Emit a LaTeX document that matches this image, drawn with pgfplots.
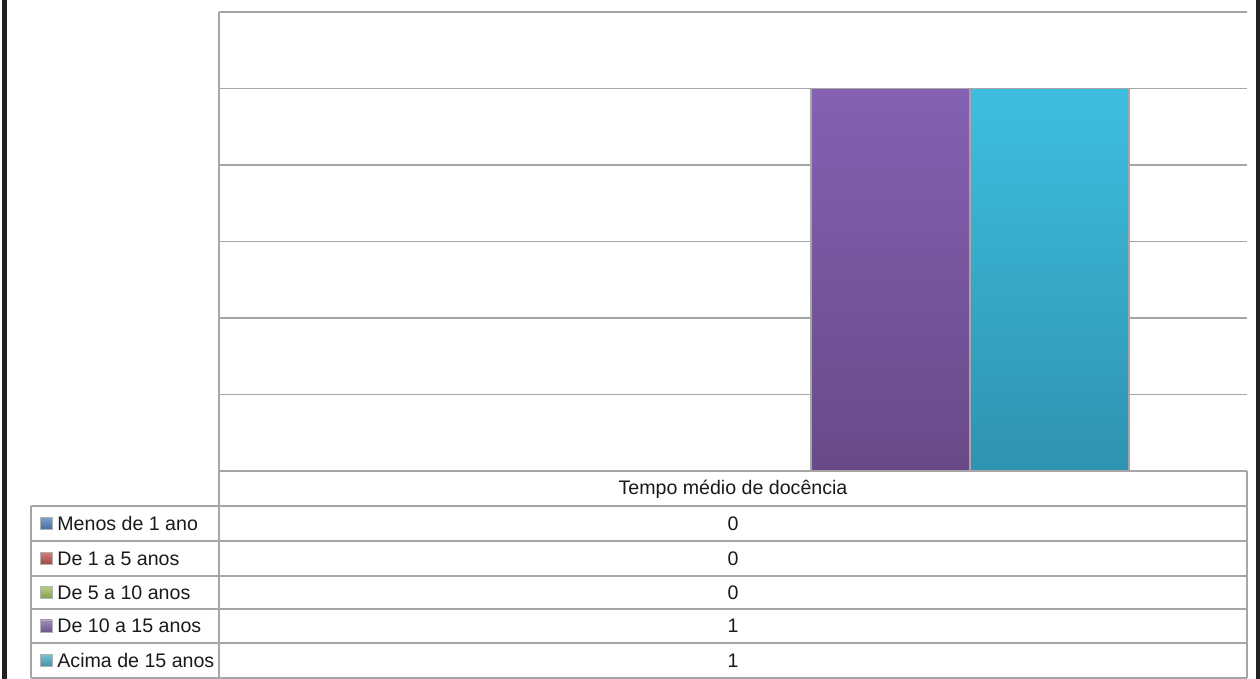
\documentclass[border=0pt]{standalone}
\usepackage{fontspec}
\setmainfont{Liberation Sans}
\usepackage{pgfplots}
\pgfplotsset{compat=1.18}
\definecolor{gridgray}{HTML}{A6A6A6}
\definecolor{txt}{HTML}{1A1A1A}
\definecolor{frame}{HTML}{222222}
\definecolor{purpleTop}{HTML}{8561B2}
\definecolor{purpleBot}{HTML}{684A88}
\definecolor{cyanTop}{HTML}{3EBEE1}
\definecolor{cyanBot}{HTML}{2E93B0}
\definecolor{sBlue}{HTML}{4F81BD}
\definecolor{sRed}{HTML}{C0504D}
\definecolor{sGreen}{HTML}{9BBB59}
\definecolor{sPurple}{HTML}{8064A2}
\definecolor{sCyan}{HTML}{4BACC6}
\begin{document}
\begin{tikzpicture}
\useasboundingbox (0pt,0pt) rectangle (630pt,339.5pt);
\fill[white] (0pt,0pt) rectangle (630pt,339.5pt);
\begin{axis}[
  at={(109.5pt,104pt)}, anchor=south west,
  width=514pt, height=229.5pt, scale only axis,
  xmin=-0.223, xmax=6.242, ymin=0, ymax=1.2,
  ytick={0,0.2,0.4,0.6,0.8,1.0,1.2}, yticklabels={},
  xtick=\empty, major tick length=0pt,
  ymajorgrids, grid style={gridgray, line width=0.8pt},
  axis x line=bottom, axis y line=left,
  axis line style={-, gridgray, line width=0.8pt},
]
\addplot[ybar, bar width=1, bar shift=0pt, draw=none, fill=none] coordinates {(1,0)};
\addplot[ybar, bar width=1, bar shift=0pt, draw=none, fill=none] coordinates {(2,0)};
\addplot[ybar, bar width=1, bar shift=0pt, draw=none, fill=none] coordinates {(3,0)};
\addplot[ybar, bar width=1, bar shift=0pt, draw=gray!70, line width=0.6pt, top color=purpleTop, bottom color=purpleBot] coordinates {(4,1)};
\addplot[ybar, bar width=1, bar shift=0pt, draw=gray!70, line width=0.6pt, top color=cyanTop, bottom color=cyanBot] coordinates {(5,1)};
\end{axis}
\begin{scope}[x=0.5pt,y=0.5pt]
\fill[frame] (1.7,0) rectangle (7,679);
\fill[frame] (1256,0) rectangle (1260,679);
% data table
\begin{scope}[gridgray, line width=0.8pt]
\draw (219,208) -- (219,1);
\draw (1247,208) -- (1247,1);
\draw (31,173) -- (31,1);
\foreach \yy in {173,138,103,70,36,1} \draw (31,\yy) -- (1247,\yy);
\end{scope}
\begin{scope}[font=\fontsize{9.8}{11}\selectfont, text=txt]
\node at (733,190) {Tempo médio de docência};
\node at (733,155.5) {0};
\node at (733,120.5) {0};
\node at (733,86.5) {0};
\node at (733,53) {1};
\node at (733,18.5) {1};
\node[anchor=west, inner sep=0pt] at (57,155.5) {Menos de 1 ano};
\node[anchor=west, inner sep=0pt] at (57,120.5) {De 1 a 5 anos};
\node[anchor=west, inner sep=0pt] at (57,86.5) {De 5 a 10 anos};
\node[anchor=west, inner sep=0pt] at (57,53) {De 10 a 15 anos};
\node[anchor=west, inner sep=0pt] at (57,18.5) {Acima de 15 anos};
\end{scope}
\foreach \yy/\cc in {155.5/sBlue,120.5/sRed,86.5/sGreen,53/sPurple,18.5/sCyan}{
  \draw[gray!60, line width=0.4pt, top color=\cc!75!white, bottom color=\cc!85!black] (40,\yy-6) rectangle (52,\yy+6);
}
\end{scope}
\end{tikzpicture}
\end{document}
